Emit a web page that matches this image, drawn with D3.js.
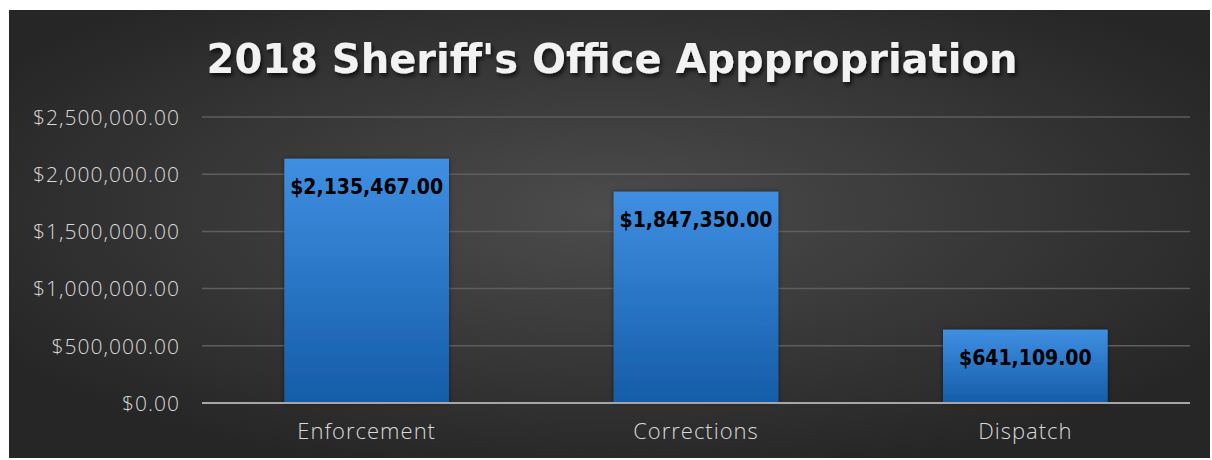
<!DOCTYPE html>
<html><head><meta charset="utf-8">
<script src="https://cdn.jsdelivr.net/npm/d3@7"></script>
<style>body{margin:0;background:#fff}svg{display:block}</style>
</head><body>
<svg id="c" width="1212" height="460"></svg>
<script>
(function(){
const categories = ["Enforcement", "Corrections", "Dispatch"];
const values = [2135467, 1847350, 641109];
const tickValues = [0, 500000, 1000000, 1500000, 2000000, 2500000];
const title = "2018 Sheriff's Office Apppropriation";

const svg = d3.select("#c");
const defs = svg.append("defs");
const bg = defs.append("radialGradient").attr("id","bg").attr("cx","50%").attr("cy","45%").attr("r","60%");
bg.append("stop").attr("offset","0%").attr("stop-color","#4c4c4c");
bg.append("stop").attr("offset","100%").attr("stop-color","#262626");
const bar = defs.append("linearGradient").attr("id","bar").attr("x1",0).attr("y1",0).attr("x2",0).attr("y2",1);
bar.append("stop").attr("offset","0%").attr("stop-color","#3f8fe2");
bar.append("stop").attr("offset","100%").attr("stop-color","#155ca8");
const sh = defs.append("filter").attr("id","sh").attr("x","-10%").attr("y","-10%").attr("width","130%").attr("height","140%");
sh.append("feDropShadow").attr("dx",2).attr("dy",3).attr("stdDeviation",2).attr("flood-color","#000").attr("flood-opacity",0.7);
const bsh = defs.append("filter").attr("id","bsh").attr("x","-10%").attr("y","-10%").attr("width","120%").attr("height","120%");
bsh.append("feDropShadow").attr("dx",0).attr("dy",0).attr("stdDeviation",2).attr("flood-color","#000").attr("flood-opacity",0.5);

svg.append("rect").attr("x",9).attr("y",10).attr("width",1201).attr("height",448).attr("fill","url(#bg)");

const pl = 202, pr = 1190, pt = 117, pb = 403;
const x = d3.scaleBand().domain(categories).range([pl, pr]).paddingInner(0.5).paddingOuter(0.25);
const y = d3.scaleLinear().domain([0, 2500000]).range([pb, pt]);

const fmt = v => "$" + d3.format(",.2f")(v);

svg.append("g").selectAll("line").data(tickValues.filter(d=>d>0)).join("line")
  .attr("x1",pl).attr("x2",pr).attr("y1",d=>y(d)).attr("y2",d=>y(d))
  .attr("stroke","#5e5e5e").attr("stroke-width",1.5);

const yAxis = d3.axisLeft(y).tickValues(tickValues).tickFormat(fmt).tickSize(0).tickPadding(0);
const ya = svg.append("g").attr("transform",`translate(180,0)`).call(yAxis);
ya.select(".domain").remove();
ya.selectAll("text").attr("fill","#d9d9d9").attr("font-family","'Open Sans', sans-serif").attr("font-weight",300)
  .attr("font-size",21).attr("letter-spacing",1).attr("dy","0.35em");

svg.append("g").selectAll("rect").data(values).join("rect")
  .attr("x",(d,i)=>x(categories[i])).attr("width",x.bandwidth())
  .attr("y",d=>y(d)).attr("height",d=>pb-y(d))
  .attr("fill","url(#bar)").attr("filter","url(#bsh)");

const xAxis = d3.axisBottom(x).tickSize(0).tickPadding(23);
const xa = svg.append("g").attr("transform",`translate(0,${pb})`).call(xAxis);
xa.select(".domain").attr("stroke","#a6a6a6").attr("stroke-width",2).attr("d",`M${pl},0H${pr}`);
xa.selectAll("text").attr("fill","#d9d9d9").attr("font-family","'Open Sans', sans-serif").attr("font-weight",300)
  .attr("font-size",22).attr("letter-spacing",1).attr("dy","0.6em");

svg.append("g").selectAll("text").data(values).join("text")
  .attr("x",(d,i)=>x(categories[i])+x.bandwidth()/2).attr("y",d=>y(d)+35)
  .attr("text-anchor","middle").attr("font-family","'DejaVu Sans Condensed','DejaVu Sans',sans-serif")
  .attr("font-weight","bold").attr("font-size",21).attr("fill","#000").text(fmt);

svg.append("text").attr("x",612).attr("y",73).attr("text-anchor","middle")
  .attr("font-family","'DejaVu Sans',sans-serif").attr("font-weight","bold").attr("font-size",40)
  .attr("letter-spacing",0).attr("fill","#f2f2f2").attr("filter","url(#sh)").text(title);
})();
</script>
</body></html>
